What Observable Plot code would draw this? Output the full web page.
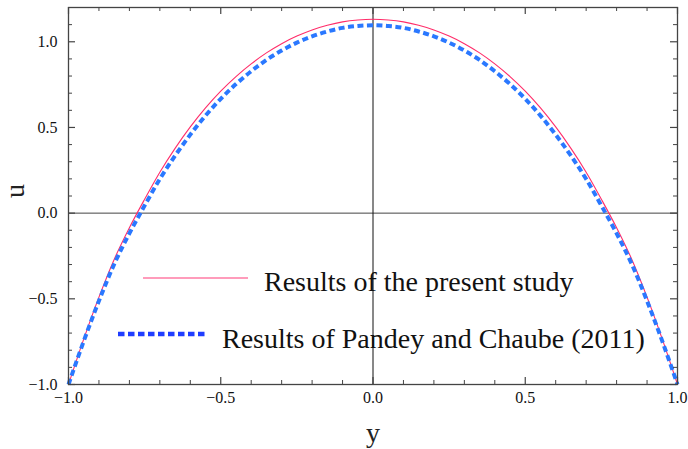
<!DOCTYPE html>
<html>
<head>
<meta charset="utf-8">
<script src="https://cdn.jsdelivr.net/npm/d3@7"></script>
<script src="https://cdn.jsdelivr.net/npm/@observablehq/plot@0.6"></script>
<style>
  html, body { margin: 0; padding: 0; background: #fff; }
  #wrap { position: relative; width: 688px; height: 449px; font-family: "Liberation Serif", "Times New Roman", serif; }
  #legend { position: absolute; left: 0; top: 0; width: 688px; height: 449px; pointer-events: none; }
</style>
</head>
<body>
<div id="wrap"></div>
<script>
// y positions (horizontal axis)
const yPos = [-1.00,-0.95,-0.90,-0.85,-0.80,-0.75,-0.70,-0.65,-0.60,-0.55,-0.50,-0.45,-0.40,-0.35,-0.30,-0.25,-0.20,-0.15,-0.10,-0.05,
               0.00, 0.05, 0.10, 0.15, 0.20, 0.25, 0.30, 0.35, 0.40, 0.45, 0.50, 0.55, 0.60, 0.65, 0.70, 0.75, 0.80, 0.85, 0.90, 0.95, 1.00];
// Results of the present study
const uPresent = [-1.00,-0.735,-0.49,-0.27,-0.085,0.081,0.239,0.378,0.503,0.614,0.712,0.797,0.871,0.935,0.989,1.033,1.069,1.096,1.116,1.127,
                  1.131,1.127,1.116,1.096,1.069,1.033,0.989,0.935,0.871,0.797,0.712,0.614,0.503,0.378,0.239,0.081,-0.085,-0.27,-0.49,-0.735,-1.00];
// Results of Pandey and Chaube (2011)
const uPandey = [-1.00,-0.747,-0.512,-0.298,-0.118,0.044,0.199,0.335,0.458,0.569,0.667,0.753,0.828,0.894,0.949,0.995,1.032,1.060,1.081,1.092,
                 1.096,1.092,1.081,1.060,1.032,0.995,0.949,0.894,0.828,0.753,0.667,0.569,0.458,0.335,0.199,0.044,-0.118,-0.298,-0.512,-0.747,-1.00];
const seriesNames = ["Results of the present study", "Results of Pandey and Chaube (2011)"];

const xMajor = [-1.0, -0.5, 0.0, 0.5, 1.0];
const yMajor = [-1.0, -0.5, 0.0, 0.5, 1.0];
const xMinor = d3.range(-10, 11).map(i => i / 10).filter(v => !xMajor.some(m => Math.abs(m - v) < 1e-9));
const yMinor = d3.range(-10, 13).map(i => i / 10).filter(v => !yMajor.some(m => Math.abs(m - v) < 1e-9));

const present = yPos.map((y, i) => ({y, u: uPresent[i]}));
const pandey = yPos.map((y, i) => ({y, u: uPandey[i]}));

const FONT = "Liberation Serif";
const fmt = d3.format(".1f");
const frameH = 384 - 7;
const frameW = 677 - 68;

const chart = Plot.plot({
  width: 688,
  height: 449,
  marginLeft: 68,
  marginRight: 11,
  marginTop: 7,
  marginBottom: 65,
  style: {fontFamily: FONT, background: "#fff"},
  x: {domain: [-1, 1]},
  y: {domain: [-1, 1.2]},
  marks: [
    Plot.ruleY([0], {stroke: "#444", strokeWidth: 1}),
    Plot.ruleX([0], {stroke: "#111", strokeWidth: 1}),
    Plot.line(present, {x: "y", y: "u", stroke: "#ff2d6a", strokeWidth: 1.1, curve: "catmull-rom"}),
    Plot.line(pandey, {x: "y", y: "u", stroke: "#2a78ff", strokeWidth: 4, strokeDasharray: "6,3.5", strokeLinecap: "butt", curve: "catmull-rom"}),
    // inward ticks: bottom / top
    Plot.tickX(xMajor, {x: d => d, insetTop: frameH - 7, stroke: "#444", strokeWidth: 1.2}),
    Plot.tickX(xMinor, {x: d => d, insetTop: frameH - 4, stroke: "#444", strokeWidth: 1}),
    Plot.tickX(xMajor, {x: d => d, insetBottom: frameH - 7, stroke: "#444", strokeWidth: 1.2}),
    Plot.tickX(xMinor, {x: d => d, insetBottom: frameH - 4, stroke: "#444", strokeWidth: 1}),
    // inward ticks: left / right
    Plot.tickY(yMajor, {y: d => d, insetRight: frameW - 7, stroke: "#444", strokeWidth: 1.2}),
    Plot.tickY(yMinor, {y: d => d, insetRight: frameW - 4, stroke: "#444", strokeWidth: 1}),
    Plot.tickY(yMajor, {y: d => d, insetLeft: frameW - 7, stroke: "#444", strokeWidth: 1.2}),
    Plot.tickY(yMinor, {y: d => d, insetLeft: frameW - 4, stroke: "#444", strokeWidth: 1}),
    Plot.axisX(xMajor, {anchor: "bottom", tickSize: 0, tickPadding: 7, tickFormat: fmt, fontSize: 16, fill: "#111", label: null}),
    Plot.axisY(yMajor, {anchor: "left", tickSize: 0, tickPadding: 11, tickFormat: fmt, fontSize: 16, fill: "#111", label: null}),
    Plot.frame({stroke: "#444", strokeWidth: 1.3}),
    Plot.text(["u"], {frameAnchor: "left", dx: -53, dy: 2, rotate: -90, fontSize: 28, fontFamily: FONT, fill: "#222", text: d => d}),
    Plot.text(["y"], {frameAnchor: "bottom", dy: 49, fontSize: 28, fontFamily: FONT, fill: "#222", text: d => d, lineAnchor: "middle"})
  ]
});

const wrap = document.getElementById("wrap");
wrap.appendChild(chart);

// legend overlay
const ns = "http://www.w3.org/2000/svg";
const leg = document.createElementNS(ns, "svg");
leg.setAttribute("id", "legend");
leg.setAttribute("width", 688);
leg.setAttribute("height", 449);
const entries = [
  {name: seriesNames[0], x1: 143, x2: 248, y: 278, base: 291, tx: 264, stroke: "#ff3b78", sw: 1.2, dash: null},
  {name: seriesNames[1], x1: 118, x2: 206, y: 334, base: 348, tx: 222, stroke: "#1f3dff", sw: 4.5, dash: "6.5,3.5"}
];
for (const e of entries) {
  const l = document.createElementNS(ns, "line");
  l.setAttribute("x1", e.x1); l.setAttribute("x2", e.x2);
  l.setAttribute("y1", e.y); l.setAttribute("y2", e.y);
  l.setAttribute("stroke", e.stroke); l.setAttribute("stroke-width", e.sw);
  if (e.dash) l.setAttribute("stroke-dasharray", e.dash);
  leg.appendChild(l);
  const t = document.createElementNS(ns, "text");
  t.setAttribute("x", e.tx); t.setAttribute("y", e.base);
  t.setAttribute("font-family", FONT);
  t.setAttribute("font-size", 28);
  t.setAttribute("fill", "#111");
  t.textContent = e.name;
  leg.appendChild(t);
}
wrap.appendChild(leg);
</script>
</body>
</html>
